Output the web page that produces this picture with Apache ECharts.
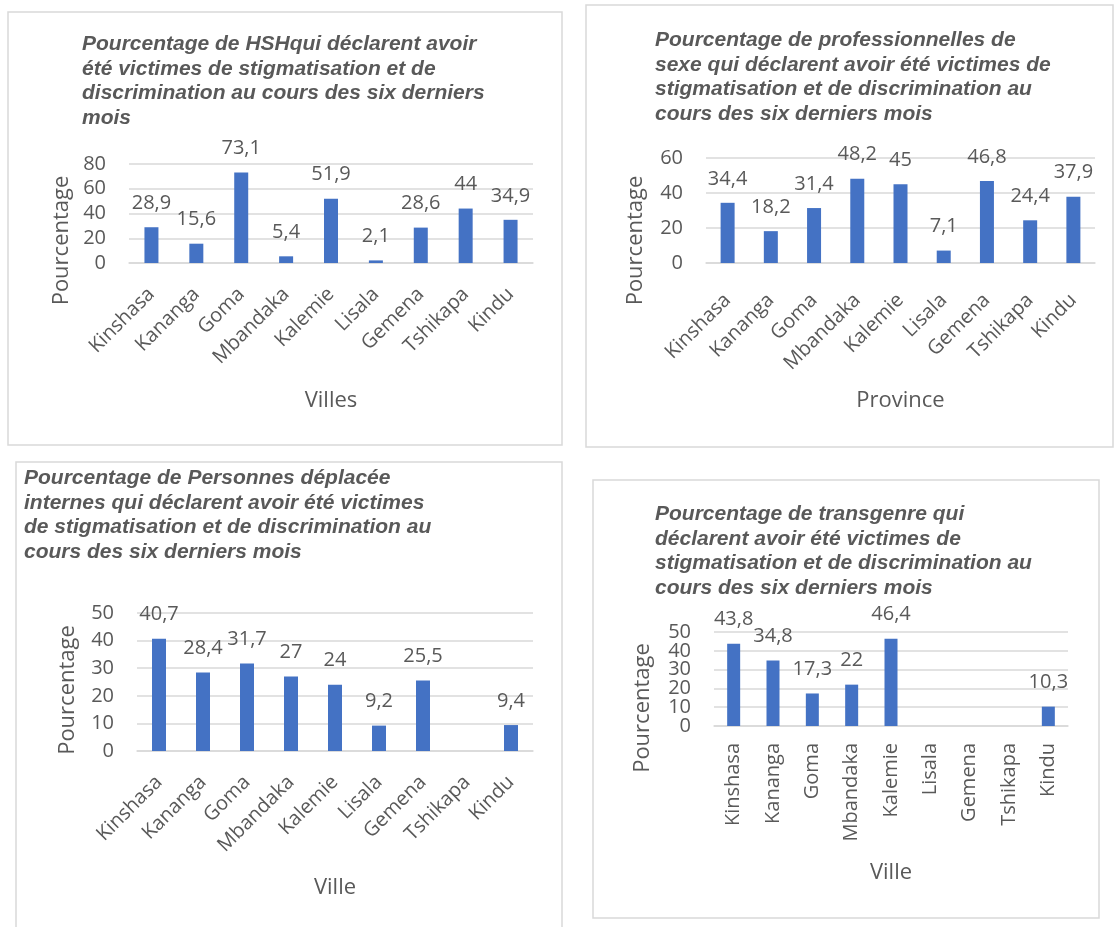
<!DOCTYPE html>
<html lang="fr">
<head>
    <meta charset="UTF-8">
    <title>Stigmatisation et discrimination</title>
    <script src="https://cdn.jsdelivr.net/npm/echarts@6/dist/echarts.min.js"></script>
    <style>
        body { margin: 0; background: #fff; }
        #main { width: 1116px; height: 927px; }
    </style>
</head>
<body>
<div id="main"></div>

<script type="text/javascript">
    // villes (catégories) et pourcentages de chaque graphique
    var villes = ['Kinshasa', 'Kananga', 'Goma', 'Mbandaka', 'Kalemie', 'Lisala', 'Gemena', 'Tshikapa', 'Kindu'];
    var hsh = [28.9, 15.6, 73.1, 5.4, 51.9, 2.1, 28.6, 44, 34.9];
    var professionnelles = [34.4, 18.2, 31.4, 48.2, 45, 7.1, 46.8, 24.4, 37.9];
    var deplaces = [40.7, 28.4, 31.7, 27, 24, 9.2, 25.5, null, 9.4];
    var transgenres = [43.8, 34.8, 17.3, 22, 46.4, null, null, null, 10.3];

    var titres = [
        'Pourcentage de HSHqui déclarent avoir\nété victimes de stigmatisation et de\ndiscrimination au cours des six derniers\nmois',
        'Pourcentage de professionnelles de\nsexe qui déclarent avoir été victimes de\nstigmatisation et de discrimination au\ncours des six derniers mois',
        'Pourcentage de Personnes déplacée\ninternes qui déclarent avoir été victimes\nde stigmatisation et de discrimination au\ncours des six derniers mois',
        'Pourcentage de transgenre qui\ndéclarent avoir été victimes de\nstigmatisation et de discrimination au\ncours des six derniers mois'
    ];
    var nomsX = ['Villes', 'Province', 'Ville', 'Ville'];
    var maxY = [80, 60, 50, 50];
    var pasY = [20, 20, 10, 10];

    var gris = '#595959';
    var bleu = '#4472C4';
    var ligne = '#D9D9D9';
    var police = '"Open Sans", "Noto Sans", sans-serif';

    // position de chaque panneau (cadre, titre, zone du graphique)
    var cadres = [[8, 12, 554, 433], [586, 5, 527, 442], [16, 462, 546, 480], [593, 480, 506, 438]];
    var posTitres = [[82, 32], [655, 28], [24, 466], [655, 502]];
    var grilles = [[129, 164, 404, 99], [706, 158, 389, 105], [137, 613, 396, 138], [714, 632, 354, 94]];
    var rotation = [45, 45, 45, 90];
    var marge = [28, 34, 28, 17];
    var ecartX = [127, 127, 126, 136];
    var ecartY = [56, 59, 58, 60];
    var decalageY = [27, 30, 8, 29];   // nom de l'axe Y un peu plus bas que le centre
    var largeurBarre = [14, 14, 14, 13];
    var donnees = [hsh, professionnelles, deplaces, transgenres];

    var myChart = echarts.init(document.getElementById('main'));

    var option = {
        backgroundColor: '#fff',
        animation: false,
        title: [], grid: [], xAxis: [], yAxis: [], series: [],
        graphic: []
    };

    function etiquettesY(filtre) {
        return {
            color: gris, fontSize: 20, fontFamily: police, margin: 23,
            showMinLabel: true, showMaxLabel: true,
            formatter: function (v) { return filtre(v) ? String(v) : ''; }
        };
    }

    for (var i = 0; i < 4; i++) {
        option.graphic.push({
            type: 'rect', silent: true, z: -1,
            shape: {x: cadres[i][0], y: cadres[i][1], width: cadres[i][2], height: cadres[i][3]},
            style: {fill: '#fff', stroke: ligne, lineWidth: 1.5}
        });
        option.title.push({
            text: titres[i],
            left: posTitres[i][0], top: posTitres[i][1], padding: 0,
            textStyle: {
                fontFamily: '"Liberation Sans", Arial, sans-serif',
                fontSize: 21, fontWeight: 'bold', fontStyle: 'italic',
                color: gris, lineHeight: 24.5
            }
        });
        option.grid.push({
            left: grilles[i][0], top: grilles[i][1],
            width: grilles[i][2], height: grilles[i][3]
        });
        option.xAxis.push({
            type: 'category', gridIndex: i, data: villes,
            name: nomsX[i], nameLocation: 'middle', nameGap: ecartX[i],
            nameTextStyle: {color: gris, fontSize: 22, fontFamily: police},
            axisLine: {lineStyle: {color: ligne, width: 1.5}},
            axisTick: {show: false},
            axisLabel: {
                color: gris, fontSize: 20, fontFamily: police,
                rotate: rotation[i], margin: marge[i], interval: 0
            }
        });
        // le dernier graphique a des graduations trop serrées : une valeur sur deux ici
        var filtre = i == 3 ? function (v) { return v % 20 == 0; } : function () { return true; };
        option.yAxis.push({
            type: 'value', gridIndex: i, min: 0, max: maxY[i], interval: pasY[i],
            name: 'Pourcentage', nameLocation: 'middle', nameGap: ecartY[i], nameRotate: 90,
            nameTextStyle: {
                color: gris, fontSize: 22, fontFamily: police,
                padding: [0, 2 * decalageY[i], 0, 0]
            },
            axisLine: {show: false}, axisTick: {show: false},
            axisLabel: etiquettesY(filtre),
            splitLine: {lineStyle: {color: ligne, width: 1.5}}
        });
        option.series.push({
            type: 'bar', xAxisIndex: i, yAxisIndex: i,
            data: donnees[i], barWidth: largeurBarre[i],
            itemStyle: {color: bleu},
            label: {
                show: true, position: 'top', distance: 14,
                color: gris, fontSize: 20, fontFamily: police,
                formatter: function (p) {
                    return String(p.value).replace('.', ',');
                }
            }
        });
    }

    // ... et l'autre moitié des valeurs sur un second axe superposé
    option.yAxis.push({
        type: 'value', gridIndex: 3, position: 'left', min: 0, max: maxY[3], interval: pasY[3],
        axisLine: {show: false}, axisTick: {show: false}, splitLine: {show: false},
        axisLabel: etiquettesY(function (v) { return v % 20 == 10; })
    });

    myChart.setOption(option);
</script>
</body>
</html>
